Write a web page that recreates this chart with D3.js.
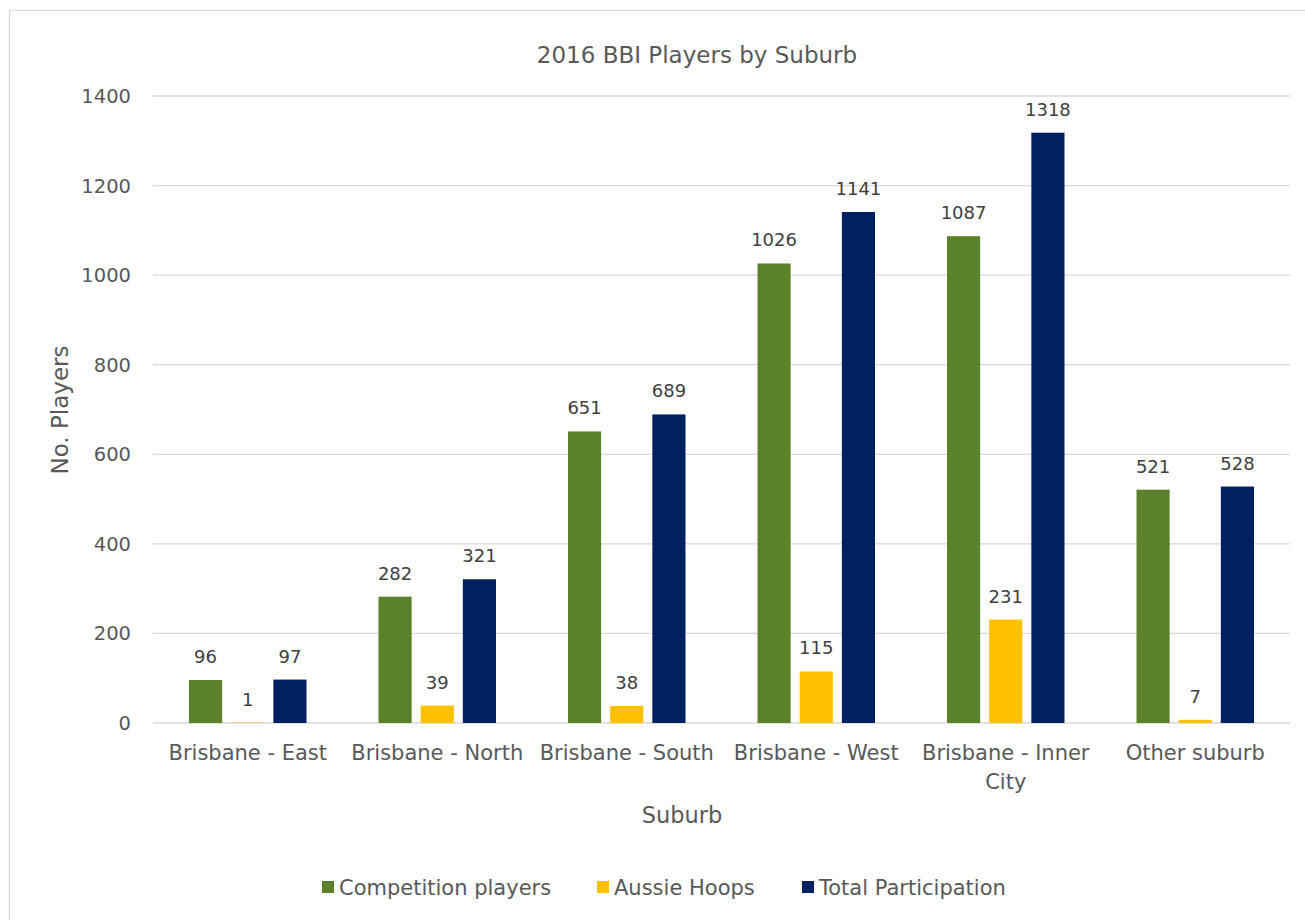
<!DOCTYPE html>
<html>
<head>
<meta charset="utf-8">
<script src="https://cdn.jsdelivr.net/npm/d3@7"></script>
<style>
  body { margin: 0; background: #fff; }
  svg text { font-family: "DejaVu Sans", sans-serif; fill: #595959; }
</style>
</head>
<body>
<svg id="chart" width="1305" height="920"></svg>
<script>
// chart data
const suburbs = ['Brisbane - East', 'Brisbane - North', 'Brisbane - South', 'Brisbane - West', 'Brisbane - Inner City', 'Other suburb'];
const seriesNames = ['Competition players', 'Aussie Hoops', 'Total Participation'];
const competitionPlayers = [96, 282, 651, 1026, 1087, 521];
const aussieHoops = [1, 39, 38, 115, 231, 7];
const totalParticipation = [97, 321, 689, 1141, 1318, 528];
const yTicks = [0, 200, 400, 600, 800, 1000, 1200, 1400];
const colors = ['#5B822A', '#FFC000', '#002060'];

const seriesValues = [competitionPlayers, aussieHoops, totalParticipation];

const svg = d3.select('#chart');

// outer chart frame
svg.append('rect')
  .attr('x', 9.5).attr('y', 10.5)
  .attr('width', 1320).attr('height', 930)
  .style('fill', '#fff')
  .style('stroke', '#d9d9d9')
  .style('stroke-width', 1.3);

const plot = { left: 153, right: 1290, top: 96, bottom: 723 };

const y = d3.scaleLinear().domain([0, 1400]).range([plot.bottom, plot.top]);
const x0 = d3.scaleBand().domain(suburbs).range([plot.left, plot.right]);
const x1 = d3.scaleBand().domain(seriesNames)
  .range([36, x0.bandwidth() - 36])
  .paddingInner(0.214);

// gridlines
svg.append('g').selectAll('line')
  .data(yTicks)
  .enter().append('line')
  .attr('x1', plot.left).attr('x2', plot.right)
  .attr('y1', d => y(d)).attr('y2', d => y(d))
  .style('stroke', '#d9d9d9')
  .style('stroke-width', 1.3);

// y tick labels
svg.append('g').selectAll('text')
  .data(yTicks)
  .enter().append('text')
  .attr('x', 131)
  .attr('y', d => y(d) + 7)
  .attr('text-anchor', 'end')
  .style('font-size', '19.5px')
  .text(d => d);

// bars + labels
const groups = svg.append('g').selectAll('g')
  .data(suburbs)
  .enter().append('g')
  .attr('transform', d => `translate(${x0(d)},0)`);

groups.selectAll('rect')
  .data((d, i) => seriesNames.map((s, j) => ({ s, j, v: seriesValues[j][i] })))
  .enter().append('rect')
  .attr('x', d => x1(d.s))
  .attr('y', d => y(d.v))
  .attr('width', x1.bandwidth())
  .attr('height', d => y(0) - y(d.v))
  .style('fill', d => colors[d.j]);

groups.selectAll('text')
  .data((d, i) => seriesNames.map((s, j) => ({ s, j, v: seriesValues[j][i] })))
  .enter().append('text')
  .attr('x', d => x1(d.s) + x1.bandwidth() / 2)
  .attr('y', d => y(d.v) - 17)
  .attr('text-anchor', 'middle')
  .style('font-size', '18px')
  .style('fill', '#404040')
  .text(d => d.v);

// x category labels (wrap long ones)
const wrapLines = { 'Brisbane - Inner City': ['Brisbane - Inner', 'City'] };
svg.append('g').selectAll('text')
  .data(suburbs)
  .enter().append('text')
  .attr('x', d => x0(d) + x0.bandwidth() / 2)
  .attr('y', 760)
  .attr('text-anchor', 'middle')
  .style('font-size', '21px')
  .each(function (d) {
    const lines = wrapLines[d] || [d];
    d3.select(this).selectAll('tspan')
      .data(lines)
      .enter().append('tspan')
      .attr('x', x0(d) + x0.bandwidth() / 2)
      .attr('dy', (l, i) => i === 0 ? 0 : 29)
      .text(l => l);
  });

// title
svg.append('text')
  .attr('x', 697).attr('y', 63)
  .attr('text-anchor', 'middle')
  .style('font-size', '23px')
  .text('2016 BBI Players by Suburb');

// axis titles
svg.append('text')
  .attr('x', 682).attr('y', 823)
  .attr('text-anchor', 'middle')
  .style('font-size', '22.5px')
  .text('Suburb');

svg.append('text')
  .attr('transform', 'translate(68,410) rotate(-90)')
  .attr('text-anchor', 'middle')
  .style('font-size', '23px')
  .text('No. Players');

// legend
const legendX = [322, 597, 802];
const legend = svg.append('g').selectAll('g')
  .data(seriesNames)
  .enter().append('g')
  .attr('transform', (d, i) => `translate(${legendX[i]},881)`);

legend.append('rect')
  .attr('width', 12).attr('height', 12)
  .style('fill', (d, i) => colors[i]);

legend.append('text')
  .attr('x', 17).attr('y', 14)
  .style('font-size', '21px')
  .text(d => d);
</script>
</body>
</html>
